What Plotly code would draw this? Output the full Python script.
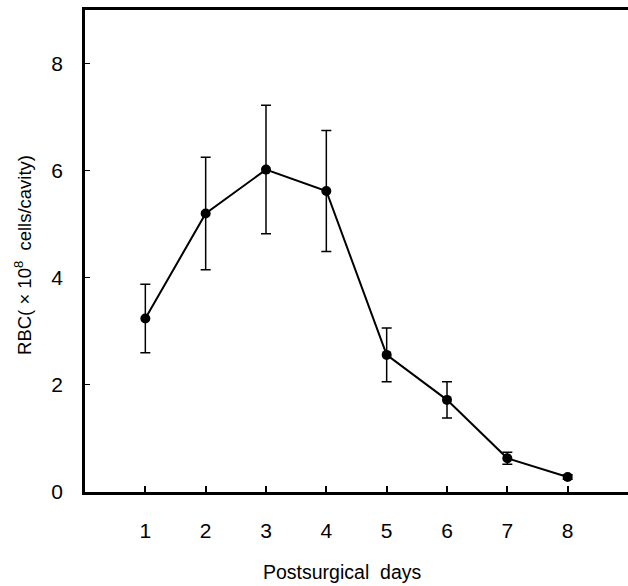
import plotly.graph_objects as go

days = [1, 2, 3, 4, 5, 6, 7, 8]
rbc = [3.24, 5.2, 6.02, 5.62, 2.56, 1.72, 0.63, 0.28]
rbc_err = [0.64, 1.05, 1.2, 1.13, 0.5, 0.34, 0.11, 0.04]
x_ticks = [1, 2, 3, 4, 5, 6, 7, 8]
y_ticks = [0, 2, 4, 6, 8]

fig = go.Figure()
fig.add_trace(go.Scatter(
    x=days, y=rbc, mode="lines+markers",
    line=dict(color="black", width=2),
    marker=dict(color="black", size=10),
    error_y=dict(type="data", array=rbc_err, visible=True,
                 color="black", thickness=1.5, width=5),
    showlegend=False,
))

font_family = "Liberation Sans, Arial, sans-serif"
fig.update_layout(
    width=628, height=586,
    margin=dict(l=85, r=0, t=10, b=94),
    paper_bgcolor="white", plot_bgcolor="white",
    font=dict(family=font_family, color="black"),
    xaxis=dict(range=[0, 9], tickvals=x_ticks, ticks="inside", ticklen=6,
               tickwidth=1.5, tickcolor="black", showline=True, linewidth=2.5,
               linecolor="black", mirror=True, showgrid=False, zeroline=False,
               tickfont=dict(size=21), ticklabelstandoff=18),
    yaxis=dict(range=[0, 9], tickvals=y_ticks, ticks="inside", ticklen=5,
               tickwidth=1, tickcolor="black", showline=True, linewidth=2.5,
               linecolor="black", mirror=False, showgrid=False, zeroline=False,
               tickfont=dict(size=21), ticklabelstandoff=15),
    annotations=[
        dict(text="Postsurgical  days", xref="paper", yref="paper",
             x=0.473, y=-0.166, showarrow=False, font=dict(size=19.5),
             xanchor="center", yanchor="middle"),
        dict(text="RBC( × 10<sup>8</sup>  cells/cavity)", xref="paper", yref="paper",
             x=-0.114, y=0.492, showarrow=False, font=dict(size=18.5),
             textangle=-90, xanchor="center", yanchor="middle"),
    ],
)

fig.write_html("out.html")
